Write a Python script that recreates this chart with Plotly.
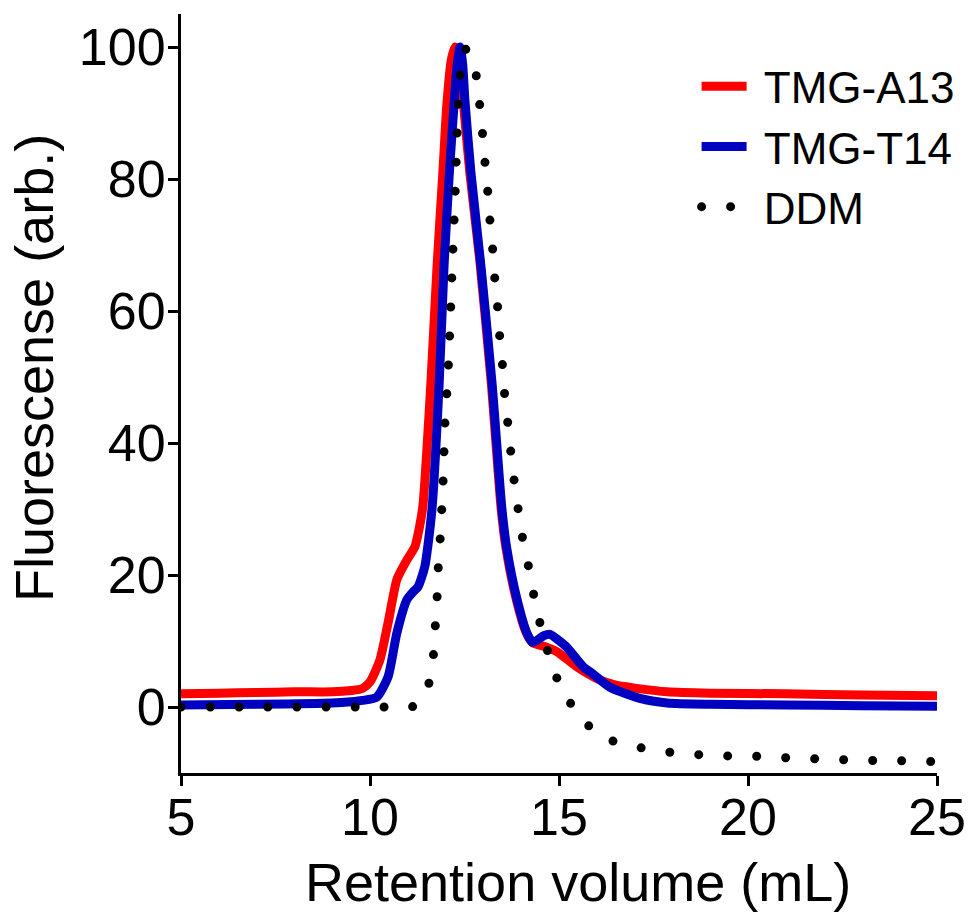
import plotly.graph_objects as go

# ---- data ----
a13_x = [5, 6, 7, 8, 9, 9.5, 9.8, 10.0, 10.26, 10.48, 10.71, 10.9, 11.0, 11.19, 11.3, 11.4,
         11.61, 11.77, 11.93, 12.03, 12.15, 12.25, 12.35, 12.48, 12.64, 12.9, 13.21, 13.47,
         13.6, 13.87, 14.13, 14.31, 14.6, 14.94, 15.47, 16.08, 16.5, 16.96, 17.86, 19, 21, 23, 25]
a13_y = [2.0, 2.1, 2.2, 2.3, 2.3, 2.5, 2.8, 3.8, 7.1, 12.8, 19.3, 21.5, 22.5, 24.3, 27.0, 30.5,
         49, 66.4, 81.2, 91, 98, 100, 98.5, 91, 81, 67.9, 49, 30,
         24, 16.3, 11.3, 9.7, 9.2, 8.4, 6.1, 4.1, 3.3, 2.9, 2.3, 2.1, 2.0, 1.8, 1.7]

t14_x = [5, 7, 9, 9.5, 9.8, 10.18, 10.48, 10.71, 10.98, 11.15, 11.27, 11.45, 11.64, 11.83,
         11.96, 12.1, 12.22, 12.3, 12.38, 12.45, 12.51, 12.67, 12.94, 13.23, 13.49, 13.62,
         13.89, 14.15, 14.3, 14.42, 14.6, 14.76, 14.95, 15.2, 15.64, 15.9, 16.35, 17.14,
         17.86, 19, 21, 23, 25]
t14_y = [0.3, 0.4, 0.6, 0.8, 1.0, 1.5, 4.6, 11.2, 16.3, 17.5, 18.2, 21.3, 30, 49,
         67, 81, 91, 97, 100, 97.5, 92, 81, 66.5, 49, 30, 24,
         16.3, 11.2, 9.8, 10.1, 10.8, 11.0, 10.3, 9.1, 6.1, 5.0, 3.0, 1.3,
         0.6, 0.4, 0.3, 0.2, 0.1]

ddm_x = [5, 6, 7, 8, 9, 10, 10.5, 11.1, 11.3, 11.53, 11.67, 11.72, 11.77, 11.8, 11.85, 11.93,
         11.98, 12.07, 12.17, 12.25, 12.33, 12.4, 12.5, 12.57, 12.7, 12.78, 12.88, 12.96,
         13.02, 13.1, 13.15, 13.23, 13.28, 13.36, 13.41, 13.49, 13.54, 13.62, 13.7, 13.78,
         13.89, 13.99, 14.15, 14.29, 14.44, 14.65, 14.85, 15.19, 15.63, 16.2, 16.93, 17.67,
         18.41, 19.18, 19.95, 20.69, 21.45, 22.22, 22.96, 23.7, 24.5, 25]
ddm_y = [0, 0, 0, 0, 0, 0, 0, 0, 0.8, 3, 7.4, 11.7, 16, 20.5, 24.9, 33.7,
         42.6, 51.2, 66, 77.5, 90.7, 96.5, 99.8, 99.4, 98.2, 96.8, 92.4, 88,
         83.7, 79.3, 75, 70.7, 66.1, 61.9, 57.4, 53, 48.6, 44.4, 40, 35.7,
         31.3, 26.9, 22.6, 18.2, 14, 9.5, 5.6, 1.6, -2.0, -4.7, -5.9, -6.7,
         -7.1, -7.4, -7.4, -7.6, -7.8, -7.9, -8.1, -8.1, -8.2, -8.3]

y_ticks = [0, 20, 40, 60, 80, 100]
x_ticks = [5, 10, 15, 20, 25]

FONT = "Arial, 'Liberation Sans', sans-serif"
GAP = "\u00a0"

fig = go.Figure()
fig.add_trace(go.Scatter(x=a13_x, y=a13_y, mode="lines", name=GAP + "TMG-A13",
                         line=dict(color="#FF0000", width=9, shape="spline", smoothing=0.6)))
fig.add_trace(go.Scatter(x=t14_x, y=t14_y, mode="lines", name=GAP + "TMG-T14",
                         line=dict(color="#0000C0", width=9, shape="spline", smoothing=0.6)))
fig.add_trace(go.Scatter(x=ddm_x, y=ddm_y, mode="lines", name=GAP + "DDM",
                         line=dict(color="#000000", width=9, dash="0px,29px",
                                   shape="spline", smoothing=0.6)))

fig.update_layout(
    width=973, height=913,
    margin=dict(l=181, r=36, t=14, b=140, autoexpand=False),
    paper_bgcolor="white", plot_bgcolor="white",
    font=dict(family=FONT, color="black", size=52),
    showlegend=True,
    legend=dict(x=0.682, y=0.951, xanchor="left", yanchor="top",
                font=dict(size=44, family=FONT), bgcolor="rgba(0,0,0,0)",
                itemwidth=45, tracegroupgap=0),
    xaxis=dict(range=[5, 25], tickvals=x_ticks, showline=True, linecolor="black",
               linewidth=3, ticks="outside", ticklen=10, tickwidth=3, tickcolor="black",
               showgrid=False, zeroline=False, tickfont=dict(size=52),
               ticklabelstandoff=-13, automargin=False),
    yaxis=dict(range=[-10, 105], tickvals=y_ticks, showline=True, linecolor="black",
               linewidth=3, ticks="outside", ticklen=10, tickwidth=3, tickcolor="black",
               showgrid=False, zeroline=False, tickfont=dict(size=52),
               ticklabelstandoff=-8, automargin=False),
    annotations=[
        dict(text="Retention volume (mL)", xref="paper", yref="paper",
             x=0.525, y=-0.1436, xanchor="center", yanchor="middle",
             showarrow=False, font=dict(size=54)),
        dict(text="Fluorescense (arb.)", xref="paper", yref="paper",
             x=-0.1944, y=0.5336, xanchor="center", yanchor="middle",
             textangle=-90, showarrow=False, font=dict(size=54)),
    ],
)

post_js = """
document.body.style.margin = '0';
document.body.style.padding = '0';
document.body.style.overflow = 'hidden';
var gd = document.getElementById('{plot_id}');
function roundDots(){
  gd.querySelectorAll('path.js-line').forEach(function(p){
    var d = p.style.strokeDasharray;
    if (d && d !== 'none') { p.style.strokeLinecap = 'round'; }
  });
}
roundDots();
gd.on('plotly_afterplot', roundDots);
"""

fig.write_html("out.html", post_script=post_js, config={"displayModeBar": False})
